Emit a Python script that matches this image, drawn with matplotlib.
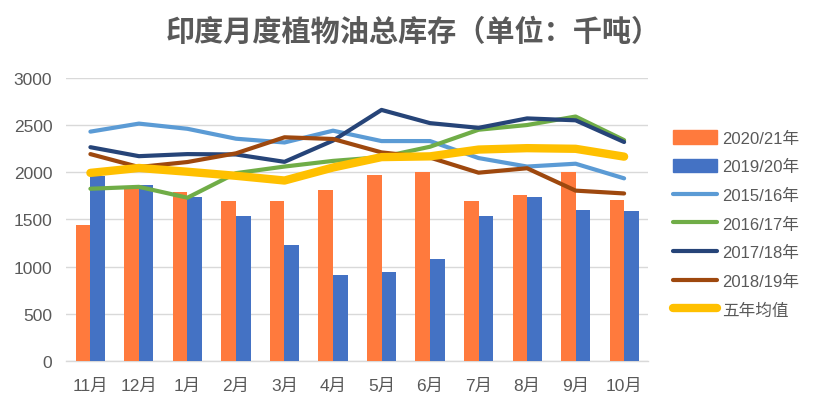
import matplotlib
matplotlib.use("Agg")
import matplotlib.pyplot as plt
import numpy as np
from matplotlib.patches import Patch
from matplotlib.lines import Line2D

plt.rcParams['font.family'] = ['Liberation Sans', 'Noto Sans CJK SC', 'DejaVu Sans']

months = ["11月", "12月", "1月", "2月", "3月", "4月", "5月", "6月", "7月", "8月", "9月", "10月"]
bar_2021 = [1440, 1830, 1790, 1700, 1690, 1810, 1970, 2000, 1700, 1755, 2005, 1710]
bar_1920 = [1960, 1860, 1740, 1540, 1230, 915, 945, 1085, 1540, 1740, 1605, 1585]
line_1516 = [2430, 2515, 2460, 2355, 2315, 2440, 2330, 2330, 2150, 2060, 2090, 1935]
line_1617 = [1825, 1845, 1730, 1990, 2060, 2120, 2160, 2270, 2450, 2500, 2590, 2340]
line_1718 = [2265, 2170, 2192, 2188, 2110, 2335, 2660, 2520, 2470, 2570, 2550, 2320]
line_1819 = [2192, 2055, 2108, 2200, 2370, 2352, 2210, 2155, 1995, 2042, 1805, 1775]
line_avg = [1993, 2045, 2005, 1962, 1912, 2050, 2160, 2168, 2240, 2255, 2248, 2165]

bar_names = ["2020/21年", "2019/20年"]
line_names = ["2015/16年", "2016/17年", "2017/18年", "2018/19年", "五年均值"]
yticks = [0, 500, 1000, 1500, 2000, 2500, 3000]

bar_colors = ["#FF7A3D", "#4472C4"]
line_colors = ["#5B9BD5", "#70AD47", "#264478", "#9E480E", "#FFC000"]
line_widths = [3.0, 3.0, 3.0, 3.0, 6.0]

fig = plt.figure(figsize=(8.27, 4.14), dpi=100)
ax = fig.add_axes([0.080, 0.1256, 0.704, 0.684])

x = np.arange(len(months))
bw = 0.3
ax.bar(x - bw / 2, bar_2021, width=bw, color=bar_colors[0], zorder=2)
ax.bar(x + bw / 2, bar_1920, width=bw, color=bar_colors[1], zorder=2)

series = [line_1516, line_1617, line_1718, line_1819, line_avg]
for i, (vals, c, lw) in enumerate(zip(series, line_colors, line_widths)):
    ax.plot(x, vals, color=c, lw=lw, solid_capstyle='round', solid_joinstyle='round', zorder=3 + i)

ax.set_xlim(-0.5, len(months) - 0.5)
ax.set_ylim(0, 3000)
ax.set_yticks(yticks)
ax.set_yticklabels([str(v) for v in yticks])
ax.set_xticks(x)
ax.set_xticklabels(months)
ax.tick_params(axis='both', length=0, labelsize=12.5, colors='#595959')
ax.tick_params(axis='y', pad=10)
ax.tick_params(axis='x', pad=12)
ax.grid(axis='y', color='#D9D9D9', lw=1, zorder=0)
for s in ['top', 'right', 'left']:
    ax.spines[s].set_visible(False)
ax.spines['bottom'].set_color('#D9D9D9')
ax.spines['bottom'].set_linewidth(1)
ax.spines['bottom'].set_zorder(1)

handles = [Patch(color=bar_colors[0]), Patch(color=bar_colors[1])]
for c, lw in zip(line_colors, line_widths):
    handles.append(Line2D([0], [0], color=c, lw=lw, solid_capstyle='round'))
labels = bar_names + line_names
leg = fig.legend(handles, labels, loc='upper left', bbox_to_anchor=(0.806, 0.700),
                 frameon=False, fontsize=12, labelcolor='#595959',
                 handlelength=2.6, handleheight=0.9, labelspacing=0.78, handletextpad=0.35,
                 borderaxespad=0)

fig.text(0.5, 0.922, "印度月度植物油总库存（单位：千吨）", ha='center', va='center',
         fontsize=21, fontweight='bold', color='#595959')

fig.savefig("out.png", dpi=100)
